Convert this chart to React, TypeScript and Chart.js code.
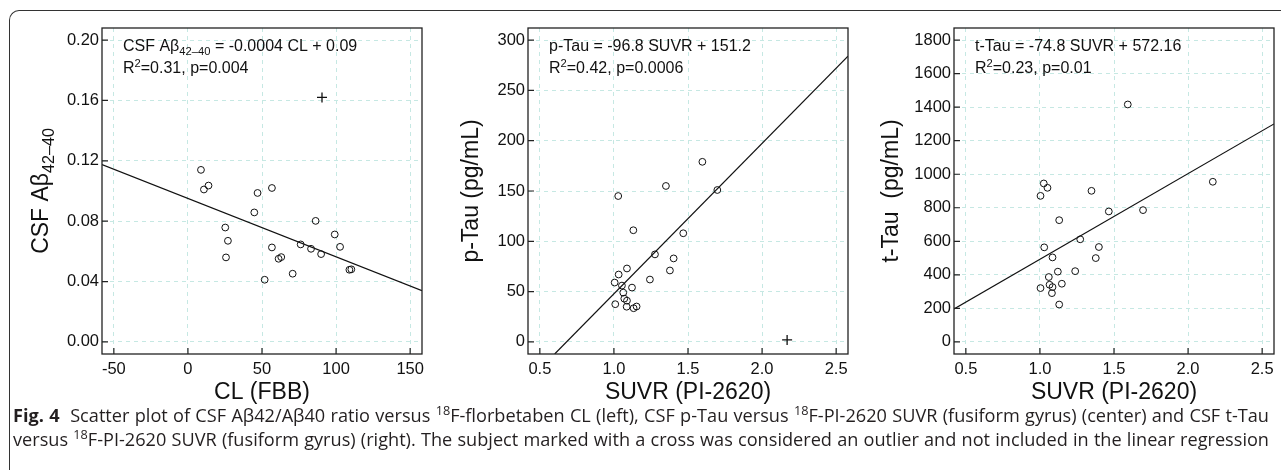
import React, { useEffect, useLayoutEffect, useRef, useState } from "react";
import { Chart, registerables } from "chart.js";

Chart.register(...registerables);

// ---------- Panel 1: CSF Aβ42/40 vs CL ----------
const clValues = [8.8, 10.8, 13.9, 47, 56.7, 44.8, 25.2, 27, 25.7, 56.7, 61.2, 63, 51.8, 70.7, 76.1, 83.1, 86.2, 89.9, 99.1, 102.7, 109, 110.3];
const abRatio = [0.114, 0.101, 0.1036, 0.0987, 0.102, 0.0858, 0.0758, 0.067, 0.056, 0.0626, 0.0551, 0.0562, 0.0412, 0.0452, 0.0646, 0.0617, 0.0802, 0.0582, 0.0712, 0.063, 0.0478, 0.0481];
const clOutlierX = [90.5];
const abOutlierY = [0.162];
const clFitX = [-58, 158];
const clFitY = [0.1175, 0.034];
const clTicks = [-50, 0, 50, 100, 150];
const clTickLabels = ["-50", "0", "50", "100", "150"];
const abTicks = [0, 0.04, 0.08, 0.12, 0.16, 0.2];
const abTickLabels = ["0.00", "0.04", "0.08", "0.12", "0.16", "0.20"];

// ---------- Panel 2: p-Tau vs SUVR ----------
const suvrP = [1.029, 1.351, 1.597, 1.698, 1.131, 1.468, 1.277, 1.403, 1.378, 1.088, 1.032, 1.005, 1.054, 1.122, 1.243, 1.063, 1.07, 1.088, 1.009, 1.086, 1.133, 1.153];
const pTau = [145, 155, 179, 151, 111, 108, 87, 83, 71, 73, 67, 59, 56, 54, 62, 49, 43, 41, 37.5, 35, 33.5, 35.2];
const pOutlierX = [2.169];
const pOutlierY = [2];
const pFitX = [0.6, 2.58];
const pFitY = [-12, 284];
const suvrTicks = [0.5, 1.0, 1.5, 2.0, 2.5];
const suvrTickLabels = ["0.5", "1.0", "1.5", "2.0", "2.5"];
const pTicks = [0, 50, 100, 150, 200, 250, 300];
const pTickLabels = ["0", "50", "100", "150", "200", "250", "300"];

// ---------- Panel 3: t-Tau vs SUVR ----------
const suvrT = [1.593, 1.026, 1.051, 1.004, 1.348, 2.167, 1.465, 1.696, 1.13, 1.272, 1.029, 1.398, 1.085, 1.377, 1.121, 1.238, 1.06, 1.065, 1.085, 1.004, 1.148, 1.081, 1.13];
const tTau = [1416, 945, 919, 871, 901, 955, 778, 786, 726, 612, 564, 566, 504, 500, 419, 422, 387, 341, 327, 321, 347, 291, 223];
const tFitX = [0.42, 2.58];
const tFitY = [196, 1300];
const tTicks = [0, 200, 400, 600, 800, 1000, 1200, 1400, 1600, 1800];
const tTickLabels = ["0", "200", "400", "600", "800", "1000", "1200", "1400", "1600", "1800"];

const FONT = "'Liberation Sans', Arial, sans-serif";
const INK = "#111";
const GRID = "rgb(198,232,227)";
const CANVAS_H = 405;
const AREA_TOP = 28;
const AREA_BOTTOM = 354;
const XAXIS_H = 30;
const CAPTION_W = 1256;

type Seg = { t: string; s?: "sub" | "sup" };

type PanelCfg = {
  left: number;
  width: number;
  areaLeft: number;
  areaRight: number;
  yTitleX: number;
  xs: number[];
  ys: number[];
  ox: number[];
  oy: number[];
  fx: number[];
  fy: number[];
  xMin: number;
  xMax: number;
  yMin: number;
  yMax: number;
  xTicks: number[];
  xLabels: string[];
  yTicks: number[];
  yLabels: string[];
  xTitle: Seg[];
  yTitle: Seg[];
  note1: Seg[];
  note2: Seg[];
};

const panels: PanelCfg[] = [
  {
    left: 0, width: 430, areaLeft: 102, areaRight: 422, yTitleX: 48,
    xs: clValues, ys: abRatio, ox: clOutlierX, oy: abOutlierY, fx: clFitX, fy: clFitY,
    xMin: -58, xMax: 158, yMin: -0.008, yMax: 0.208,
    xTicks: clTicks, xLabels: clTickLabels, yTicks: abTicks, yLabels: abTickLabels,
    xTitle: [{ t: "CL (FBB)" }],
    yTitle: [{ t: "CSF Aβ" }, { t: "42–40", s: "sub" }],
    note1: [{ t: "CSF Aβ" }, { t: "42–40", s: "sub" }, { t: " = -0.0004 CL + 0.09" }],
    note2: [{ t: "R" }, { t: "2", s: "sup" }, { t: "=0.31, p=0.004" }],
  },
  {
    left: 430, width: 430, areaLeft: 98, areaRight: 418, yTitleX: 48,
    xs: suvrP, ys: pTau, ox: pOutlierX, oy: pOutlierY, fx: pFitX, fy: pFitY,
    xMin: 0.42, xMax: 2.58, yMin: -12, yMax: 312,
    xTicks: suvrTicks, xLabels: suvrTickLabels, yTicks: pTicks, yLabels: pTickLabels,
    xTitle: [{ t: "SUVR (PI-2620)" }],
    yTitle: [{ t: "p-Tau (pg/mL)" }],
    note1: [{ t: "p-Tau = -96.8 SUVR + 151.2" }],
    note2: [{ t: "R" }, { t: "2", s: "sup" }, { t: "=0.42, p=0.0006" }],
  },
  {
    left: 860, width: 421, areaLeft: 94, areaRight: 414, yTitleX: 38,
    xs: suvrT, ys: tTau, ox: [], oy: [], fx: tFitX, fy: tFitY,
    xMin: 0.42, xMax: 2.58, yMin: -72, yMax: 1872,
    xTicks: suvrTicks, xLabels: suvrTickLabels, yTicks: tTicks, yLabels: tTickLabels,
    xTitle: [{ t: "SUVR (PI-2620)" }],
    yTitle: [{ t: "t-Tau  (pg/mL)" }],
    note1: [{ t: "t-Tau = -74.8 SUVR + 572.16" }],
    note2: [{ t: "R" }, { t: "2", s: "sup" }, { t: "=0.23, p=0.01" }],
  },
];

function drawRich(ctx: CanvasRenderingContext2D, segs: Seg[], x: number, y: number, size: number, align: "left" | "center") {
  const small = size * 0.7;
  const widths = segs.map((g) => {
    ctx.font = `${g.s ? small : size}px ${FONT}`;
    return ctx.measureText(g.t).width;
  });
  const total = widths.reduce((a, b) => a + b, 0);
  let cx = align === "center" ? x - total / 2 : x;
  ctx.textAlign = "left";
  ctx.textBaseline = "alphabetic";
  segs.forEach((g, i) => {
    ctx.font = `${g.s ? small : size}px ${FONT}`;
    const dy = g.s === "sub" ? size * 0.24 : g.s === "sup" ? -size * 0.4 : 0;
    ctx.fillText(g.t, cx, y + dy);
    cx += widths[i];
  });
}

function makeDeco(p: PanelCfg) {
  return {
    id: "deco",
    afterDraw(chart: any) {
      const { ctx, chartArea: a, scales } = chart;
      const sx = scales.x;
      const sy = scales.y;
      ctx.save();
      ctx.strokeStyle = "#222";
      ctx.lineWidth = 1.3;
      ctx.strokeRect(a.left, a.top, a.right - a.left, a.bottom - a.top);
      ctx.beginPath();
      ctx.lineWidth = 1.2;
      p.xTicks.forEach((v) => {
        const px = sx.getPixelForValue(v);
        ctx.moveTo(px, a.bottom);
        ctx.lineTo(px, a.bottom - 6);
      });
      p.yTicks.forEach((v) => {
        const py = sy.getPixelForValue(v);
        ctx.moveTo(a.left, py);
        ctx.lineTo(a.left + 6, py);
      });
      ctx.stroke();
      ctx.fillStyle = INK;
      drawRich(ctx, p.note1, a.left + 21, a.top + 22.7, 16, "left");
      drawRich(ctx, p.note2, a.left + 21, a.top + 45, 16, "left");
      drawRich(ctx, p.xTitle, (a.left + a.right) / 2, 399, 23, "center");
      ctx.translate(p.yTitleX, (a.top + a.bottom) / 2);
      ctx.rotate(-Math.PI / 2);
      drawRich(ctx, p.yTitle, 0, 0, 23, "center");
      ctx.restore();
    },
  };
}

function Panel({ cfg }: { cfg: PanelCfg }) {
  const ref = useRef<HTMLCanvasElement>(null);
  useEffect(() => {
    const canvas = ref.current;
    if (!canvas) return;
    const chart = new Chart(canvas, {
      type: "scatter",
      data: {
        datasets: [
          {
            type: "line",
            data: cfg.fx.map((x, i) => ({ x, y: cfg.fy[i] })),
            borderColor: INK,
            borderWidth: 1.2,
            pointRadius: 0,
            fill: false,
            order: 2,
          } as any,
          {
            data: cfg.xs.map((x, i) => ({ x, y: cfg.ys[i] })),
            pointStyle: "circle",
            pointRadius: 3.4,
            borderWidth: 1,
            borderColor: INK,
            backgroundColor: "rgba(0,0,0,0)",
            order: 1,
          },
          {
            data: cfg.ox.map((x, i) => ({ x, y: cfg.oy[i] })),
            pointStyle: "cross",
            pointRadius: 5,
            borderWidth: 1.3,
            borderColor: INK,
            order: 1,
          },
        ],
      },
      options: {
        responsive: false,
        animation: false,
        devicePixelRatio: 1,
        layout: {
          padding: {
            left: 0,
            top: AREA_TOP,
            right: cfg.width - cfg.areaRight,
            bottom: CANVAS_H - AREA_BOTTOM - XAXIS_H,
          },
        },
        plugins: { legend: { display: false }, tooltip: { enabled: false } },
        scales: {
          x: {
            type: "linear",
            min: cfg.xMin,
            max: cfg.xMax,
            afterBuildTicks: (s: any) => {
              s.ticks = cfg.xTicks.map((v) => ({ value: v }));
            },
            afterFit: (s: any) => {
              s.height = XAXIS_H;
            },
            grid: { color: GRID, drawTicks: false, lineWidth: 1 },
            border: { display: false, dash: [4, 4] },
            ticks: {
              callback: (_v: any, i: number) => cfg.xLabels[i],
              font: { family: FONT, size: 16.5 },
              color: INK,
              padding: 5.5,
              maxRotation: 0,
              autoSkip: false,
            },
          },
          y: {
            type: "linear",
            min: cfg.yMin,
            max: cfg.yMax,
            afterBuildTicks: (s: any) => {
              s.ticks = cfg.yTicks.map((v) => ({ value: v }));
            },
            afterFit: (s: any) => {
              s.width = cfg.areaLeft;
            },
            grid: { color: GRID, drawTicks: false, lineWidth: 1 },
            border: { display: false, dash: [4, 4] },
            ticks: {
              callback: (_v: any, i: number) => cfg.yLabels[i],
              font: { family: FONT, size: 16.5 },
              color: INK,
              padding: 3,
              autoSkip: false,
            },
          },
        },
      } as any,
      plugins: [makeDeco(cfg)],
    });
    return () => chart.destroy();
  }, [cfg]);
  return (
    <canvas
      ref={ref}
      width={cfg.width}
      height={CANVAS_H}
      style={{ position: "absolute", left: cfg.left, top: 0, width: cfg.width, height: CANVAS_H }}
    />
  );
}

const supStyle: React.CSSProperties = { fontSize: "0.7em", verticalAlign: "super", lineHeight: 0 };

function CaptionLine1() {
  return (
    <>
      <b>Fig. 4</b>&nbsp; Scatter plot of CSF Aβ42/Aβ40 ratio versus <sup style={supStyle}>18</sup>F-florbetaben CL (left), CSF p-Tau versus{" "}
      <sup style={supStyle}>18</sup>F-PI-2620 SUVR (fusiform gyrus) (center) and CSF t-Tau
    </>
  );
}

function CaptionLine2() {
  return (
    <>
      versus <sup style={supStyle}>18</sup>F-PI-2620 SUVR (fusiform gyrus) (right). The subject marked with a cross was considered an outlier and not
      included in the linear regression
    </>
  );
}

const BASE_FS = 16;

function Caption() {
  const m1 = useRef<HTMLSpanElement>(null);
  const m2 = useRef<HTMLSpanElement>(null);
  const [fs, setFs] = useState<number | null>(null);
  useLayoutEffect(() => {
    if (!m1.current || !m2.current) return;
    const w = Math.max(m1.current.getBoundingClientRect().width, m2.current.getBoundingClientRect().width);
    if (w > 0) setFs((BASE_FS * CAPTION_W * 0.992) / w);
  }, []);
  const font = "'Open Sans', 'Noto Sans', sans-serif";
  const lineStyle: React.CSSProperties = { textAlign: "justify", textAlignLast: "justify", whiteSpace: "normal" };
  return (
    <>
      <div style={{ position: "absolute", left: 0, top: 0, visibility: "hidden", fontFamily: font, fontSize: BASE_FS, whiteSpace: "nowrap" }}>
        <span ref={m1}>
          <CaptionLine1 />
        </span>
        <br />
        <span ref={m2}>
          <CaptionLine2 />
        </span>
      </div>
      {fs !== null && (
        <div
          style={{
            position: "absolute",
            left: 13,
            top: 403,
            width: CAPTION_W,
            fontFamily: font,
            fontSize: fs,
            lineHeight: "24px",
            color: "#231f20",
          }}
        >
          <div style={lineStyle}>
            <CaptionLine1 />
          </div>
          <div style={lineStyle}>
            <CaptionLine2 />
          </div>
        </div>
      )}
    </>
  );
}

export default function App() {
  return (
    <div style={{ position: "fixed", left: 0, top: 0, width: 1281, height: 470, background: "#fff", overflow: "hidden" }}>
      <div
        style={{
          position: "absolute",
          left: 9,
          top: 10,
          width: 1320,
          height: 500,
          borderTop: "1.2px solid #333",
          borderLeft: "1.2px solid #333",
          borderTopLeftRadius: 10,
        }}
      />
      {panels.map((p, i) => (
        <Panel key={i} cfg={p} />
      ))}
      <Caption />
    </div>
  );
}
